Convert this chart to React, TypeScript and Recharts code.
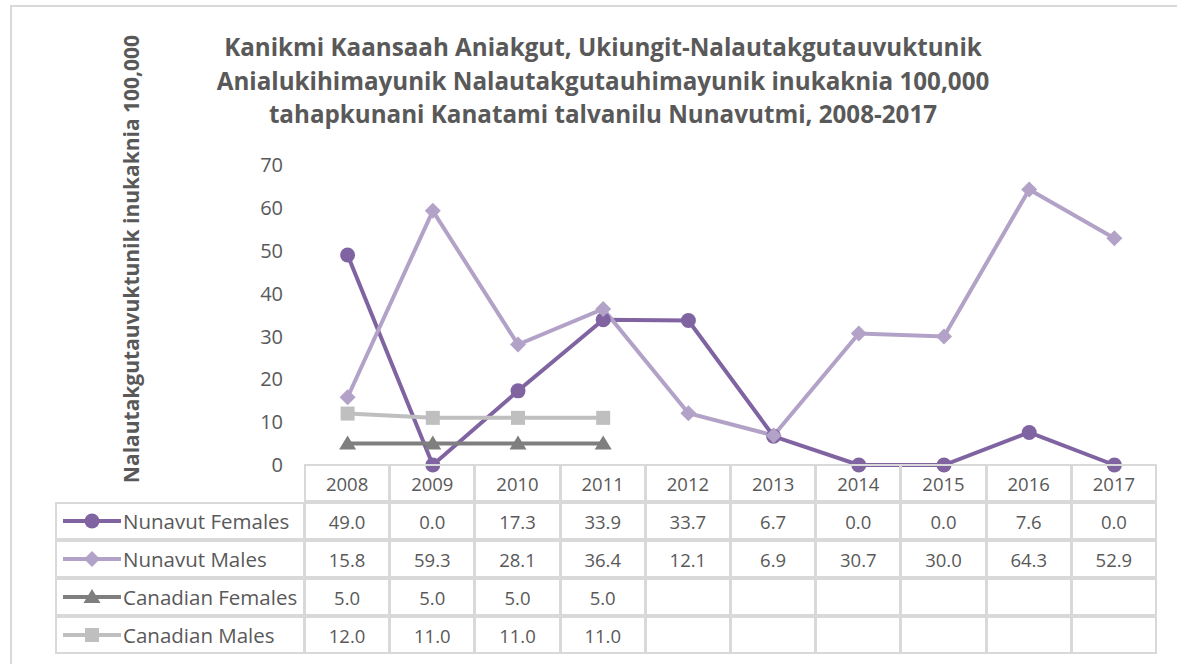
import React from "react";
import { LineChart, Line, XAxis, YAxis } from "recharts";

const years = ["2008", "2009", "2010", "2011", "2012", "2013", "2014", "2015", "2016", "2017"];
const nunavutFemales = [49.0, 0.0, 17.3, 33.9, 33.7, 6.7, 0.0, 0.0, 7.6, 0.0];
const nunavutMales = [15.8, 59.3, 28.1, 36.4, 12.1, 6.9, 30.7, 30.0, 64.3, 52.9];
const canadianFemales = [5.0, 5.0, 5.0, 5.0, null, null, null, null, null, null];
const canadianMales = [12.0, 11.0, 11.0, 11.0, null, null, null, null, null, null];
const yTicks = [0, 10, 20, 30, 40, 50, 60, 70];

const titleLines = [
  "Kanikmi Kaansaah Aniakgut, Ukiungit-Nalautakgutauvuktunik",
  "Anialukihimayunik Nalautakgutauhimayunik inukaknia 100,000",
  "tahapkunani Kanatami talvanilu Nunavutmi, 2008-2017",
];
const yLabel = "Nalautakgutauvuktunik inukaknia 100,000";

const FONT = "'Open Sans', Lato, sans-serif";
const TEXT = "#595959";
const GRID = "#D9D9D9";

// plot geometry
const W = 1177;
const H = 664;
const PLOT_L = 305;
const PLOT_R = 1157;
const PLOT_T = 165;
const PLOT_B = 465;
const COL_W = (PLOT_R - PLOT_L) / years.length;
const ROW_H = 38;
const LEG_L = 56;
const Y_AXIS_W = 60;

type Shape = "circle" | "diamond" | "triangle" | "square";

const series: { key: string; name: string; color: string; shape: Shape; values: (number | null)[] }[] = [
  { key: "nf", name: "Nunavut Females", color: "#8064A2", shape: "circle", values: nunavutFemales },
  { key: "nm", name: "Nunavut Males", color: "#B3A2C7", shape: "diamond", values: nunavutMales },
  { key: "cf", name: "Canadian Females", color: "#7F7F7F", shape: "triangle", values: canadianFemales },
  { key: "cm", name: "Canadian Males", color: "#BFBFBF", shape: "square", values: canadianMales },
];

const data = years.map((y, i) => {
  const row: any = { year: y };
  series.forEach((s) => (row[s.key] = s.values[i]));
  return row;
});

function Marker({ cx, cy, shape, color }: { cx: number; cy: number; shape: Shape; color: string }) {
  if (cx == null || cy == null || isNaN(cy)) return null;
  if (shape === "circle") return <circle cx={cx} cy={cy} r={7.5} fill={color} />;
  if (shape === "diamond")
    return <polygon points={`${cx},${cy - 8} ${cx + 8},${cy} ${cx},${cy + 8} ${cx - 8},${cy}`} fill={color} />;
  if (shape === "triangle")
    return <polygon points={`${cx},${cy - 8} ${cx + 8.5},${cy + 6} ${cx - 8.5},${cy + 6}`} fill={color} />;
  return <rect x={cx - 7} y={cy - 7} width={14} height={14} fill={color} />;
}

const makeDot = (shape: Shape, color: string) => (props: any) =>
  <Marker key={props.key ?? `${shape}-${props.index}`} cx={props.cx} cy={props.cy} shape={shape} color={color} />;

const fmt = (v: number | null) => (v == null ? "" : v.toFixed(1));

export default function App() {
  const cell = (left: number, top: number, width: number, extra: React.CSSProperties = {}): React.CSSProperties => ({
    position: "absolute",
    left,
    top,
    width,
    height: ROW_H,
    boxSizing: "border-box",
    border: `2px solid ${GRID}`,
    marginLeft: -1,
    marginTop: -1,
    display: "flex",
    alignItems: "center",
    justifyContent: "center",
    fontSize: 18.5,
    color: TEXT,
    ...extra,
  });

  return (
    <div style={{ position: "absolute", left: 0, top: 0, width: W, height: H, overflow: "hidden", background: "#fff", fontFamily: FONT }}>
      <div style={{ position: "absolute", left: 10, top: 5, width: 1200, height: 700, border: `2px solid ${GRID}` }} />

      {titleLines.map((t, i) => (
        <div
          key={i}
          style={{
            position: "absolute",
            left: 0,
            width: 1206,
            top: 31 + i * 33.5,
            textAlign: "center",
            fontSize: 24.2,
            fontWeight: 700,
            color: TEXT,
            lineHeight: "32px",
            whiteSpace: "nowrap",
          }}
        >
          {t}
        </div>
      ))}

      <div
        style={{
          position: "absolute",
          left: 131,
          top: 259,
          transform: "translate(-50%, -50%) rotate(-90deg)",
          fontSize: 21,
          fontWeight: 700,
          color: TEXT,
          whiteSpace: "nowrap",
        }}
      >
        {yLabel}
      </div>

      <div style={{ position: "absolute", left: 0, top: 0 }}>
        <LineChart
          width={W}
          height={H}
          data={data}
          margin={{ top: PLOT_T, right: W - PLOT_R, bottom: H - PLOT_B, left: PLOT_L - Y_AXIS_W }}
        >
          <XAxis dataKey="year" hide padding={{ left: COL_W / 2, right: COL_W / 2 }} />
          <YAxis
            width={Y_AXIS_W}
            domain={[0, 70]}
            ticks={yTicks}
            axisLine={false}
            tickLine={false}
            tickSize={0}
            tickMargin={22}
            tick={{ fill: TEXT, fontSize: 20, fontFamily: FONT }}
          />
          {series.map((s) => (
            <Line
              key={s.key}
              dataKey={s.key}
              name={s.name}
              stroke={s.color}
              strokeWidth={4}
              dot={makeDot(s.shape, s.color)}
              activeDot={false}
              isAnimationActive={false}
            />
          ))}
        </LineChart>
      </div>

      {/* data table */}
      {years.map((y, i) => (
        <div key={y} style={cell(PLOT_L + i * COL_W, PLOT_B, COL_W + 1)}>
          {y}
        </div>
      ))}
      {series.map((s, r) => {
        const top = PLOT_B + ROW_H * (r + 1);
        return (
          <React.Fragment key={s.key}>
            <div style={cell(LEG_L, top, PLOT_L - LEG_L + 1, { justifyContent: "flex-start", paddingLeft: 4 })}>
              <svg width={62} height={20} style={{ flex: "none" }}>
                <line x1={2} y1={10} x2={60} y2={10} stroke={s.color} strokeWidth={4} />
                <Marker cx={31} cy={10} shape={s.shape} color={s.color} />
              </svg>
              <span style={{ whiteSpace: "nowrap", fontSize: 20.5 }}>{s.name}</span>
            </div>
            {s.values.map((v, i) => (
              <div key={i} style={cell(PLOT_L + i * COL_W, top, COL_W + 1)}>
                {fmt(v)}
              </div>
            ))}
          </React.Fragment>
        );
      })}
    </div>
  );
}
